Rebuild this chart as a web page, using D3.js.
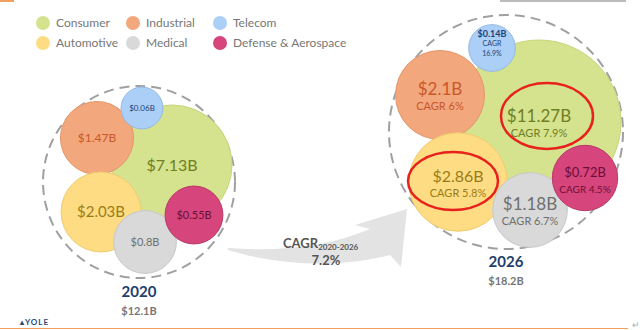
<!DOCTYPE html>
<html>
<head>
<meta charset="utf-8">
<script src="https://cdn.jsdelivr.net/npm/d3@7"></script>
<style>
  body { margin: 0; background: #fff; }
  svg { display: block; font-family: Lato, "Open Sans", sans-serif; }
</style>
</head>
<body>
<div id="chart"></div>
<script>
// data
const segments = ['Consumer', 'Industrial', 'Telecom', 'Automotive', 'Medical', 'Defense & Aerospace'];
const values2020 = [7.13, 1.47, 0.06, 2.03, 0.8, 0.55];
const values2026 = [11.27, 2.1, 0.14, 2.86, 1.18, 0.72];
const cagr2026 = [7.9, 6, 16.9, 5.8, 6.7, 4.5];
const years = ['2020', '2026'];
const totals = [12.1, 18.2];
const overallCagr = 7.2;
const highlighted = ['Consumer', 'Automotive'];

// styles
const fills = ['#d5e38f', '#f2a77c', '#abcff6', '#fddc84', '#d9d9d9', '#d6467c'];
const strokes = ['#c6d67a', '#e3956a', '#93b9e4', '#f0cb6d', '#c8c8c8', '#b83866'];
const textColors = ['#6f7f22', '#c9582c', '#223f78', '#9a7c17', '#6f6f6f', '#6e0d34'];

const width = 640;
const height = 330;

const svg = d3.select('#chart')
    .append('svg')
    .attr('width', width)
    .attr('height', height);

// slide decoration
svg.append('rect').attr('x', 0).attr('y', 0).attr('width', 14).attr('height', 2).attr('fill', '#f0a060');
svg.append('rect').attr('x', 500).attr('y', 0).attr('width', 126).attr('height', 2).attr('fill', '#bbb');
svg.append('line')
    .attr('x1', 0).attr('x2', 628).attr('y1', 328.5).attr('y2', 328.5)
    .attr('stroke', '#f0a060').attr('stroke-width', 1.2);
svg.append('text')
    .attr('x', 20).attr('y', 325)
    .style('font-size', '8px').style('font-weight', 'bold')
    .attr('fill', '#2a4a7a').attr('letter-spacing', 1)
    .text('\u25B4YOLE');
svg.append('text')
    .attr('x', 632).attr('y', 328)
    .style('font-size', '9px').attr('fill', '#aaa')
    .text('\u21B5');

// legend
const legend = svg.append('g').attr('class', 'legend');
const legendX = [43, 133, 220];
segments.forEach((s, i) => {
    const g = legend.append('g')
        .attr('transform', `translate(${legendX[i % 3]},${23 + Math.floor(i / 3) * 20})`);
    g.append('circle').attr('r', 7).attr('fill', fills[i]);
    g.append('text')
        .attr('x', 13).attr('dy', '0.35em')
        .style('font-size', '12px')
        .attr('fill', '#777')
        .text(s);
});

// chart layout
const charts = [
    {
        year: years[0], total: totals[0], values: values2020, cagr: null,
        cx: 139, cy: 182, outerR: 96,
        radius: d3.scaleSqrt().domain([0, d3.max(values2020)]).range([17, 60]),
        offsets: [[33, -17], [-42, -44], [3, -74], [-38, 30], [6, 60], [55, 33]],
        valueSize: [16, 12, 8, 15, 11, 11],
        labelY: 297
    },
    {
        year: years[1], total: totals[1], values: values2026, cagr: cagr2026,
        cx: 506, cy: 132, outerR: 117,
        radius: d3.scaleSqrt().domain([0, d3.max(values2026)]).range([16, 82]),
        offsets: [[33, -10], [-66, -37], [-14, -84], [-48, 50], [24, 78], [79, 46]],
        valueSize: [17, 17, 9, 16, 17, 13],
        cagrSize: [11, 11, 7, 11, 11, 10],
        ellipse: { Consumer: [8, -6, 46, 33], Automotive: [-5, -1, 45, 29] },
        labelY: 267
    }
];

// growth arrow
svg.append('path')
    .attr('d', 'M228,248 C280,252 330,246 370,229 L355,225 L407,209 L401,267 L390,255 C340,268 280,266 228,250 Z')
    .attr('fill', '#e3e3e3');
const cagrText = svg.append('text')
    .attr('x', 283).attr('y', 248)
    .style('font-size', '13px').style('font-weight', 'bold')
    .attr('fill', '#555');
cagrText.append('tspan').text('CAGR');
cagrText.append('tspan')
    .attr('dy', 2).style('font-size', '8px')
    .text(`${years[0]}-${years[1]}`);
svg.append('text')
    .attr('x', 326).attr('y', 265)
    .attr('text-anchor', 'middle')
    .style('font-size', '13px').style('font-weight', 'bold')
    .attr('fill', '#555')
    .text(overallCagr + '%');

charts.forEach((c) => {
    const g = svg.append('g').attr('transform', `translate(${c.cx},${c.cy})`);

    g.append('circle')
        .attr('r', c.outerR)
        .attr('fill', 'none')
        .attr('stroke', '#a0a0a0')
        .attr('stroke-width', 2)
        .attr('stroke-dasharray', '10,6');

    const nodes = c.values.map((v, i) => ({
        name: segments[i],
        value: v,
        cagr: c.cagr ? c.cagr[i] : null,
        x: c.offsets[i][0],
        y: c.offsets[i][1],
        r: c.radius(v),
        i: i
    }));

    const bubble = g.selectAll('g.bubble')
        .data(nodes)
        .enter()
        .append('g')
        .attr('class', 'bubble')
        .attr('transform', (d) => `translate(${d.x},${d.y})`);

    bubble.append('circle')
        .attr('r', (d) => d.r)
        .attr('fill', (d) => fills[d.i])
        .attr('stroke', (d) => strokes[d.i])
        .attr('stroke-width', 1);

    bubble.each(function (d) {
        const b = d3.select(this);
        const color = textColors[d.i];
        if (d.cagr === null) {
            b.append('text')
                .attr('text-anchor', 'middle')
                .attr('dy', '0.35em')
                .style('font-size', c.valueSize[d.i] + 'px')
                .attr('fill', color)
                .text('$' + d.value + 'B');
        } else if (d.r < 26) {
            const lines = ['$' + d.value + 'B', 'CAGR', d.cagr + '%'];
            lines.forEach((t, k) => {
                b.append('text')
                    .attr('text-anchor', 'middle')
                    .attr('y', -14 + k * 10)
                    .attr('dy', '0.35em')
                    .style('font-size', (k === 0 ? c.valueSize[d.i] : c.cagrSize[d.i]) + 'px')
                    .style('font-weight', k === 0 ? 'bold' : 'normal')
                    .attr('fill', color)
                    .text(t);
            });
        } else {
            b.append('text')
                .attr('text-anchor', 'middle')
                .attr('y', -6)
                .attr('dy', '0.35em')
                .style('font-size', c.valueSize[d.i] + 'px')
                .attr('fill', color)
                .text('$' + d.value + 'B');
            b.append('text')
                .attr('text-anchor', 'middle')
                .attr('y', 11)
                .attr('dy', '0.35em')
                .style('font-size', c.cagrSize[d.i] + 'px')
                .attr('fill', color)
                .text('CAGR ' + d.cagr + '%');
        }
        if (c.ellipse && highlighted.includes(d.name)) {
            const e = c.ellipse[d.name];
            b.append('ellipse')
                .attr('cx', e[0]).attr('cy', e[1])
                .attr('rx', e[2]).attr('ry', e[3])
                .attr('fill', 'none')
                .attr('stroke', '#e8211c')
                .attr('stroke-width', 2.5);
        }
    });

    svg.append('text')
        .attr('x', c.cx).attr('y', c.labelY)
        .attr('text-anchor', 'middle')
        .style('font-size', '15px').style('font-weight', 'bold')
        .attr('fill', '#1f3d6e')
        .text(c.year);
    svg.append('text')
        .attr('x', c.cx).attr('y', c.labelY + 18)
        .attr('text-anchor', 'middle')
        .style('font-size', '11px').style('font-weight', 'bold')
        .attr('fill', '#777')
        .text('$' + c.total + 'B');
});
</script>
</body>
</html>
